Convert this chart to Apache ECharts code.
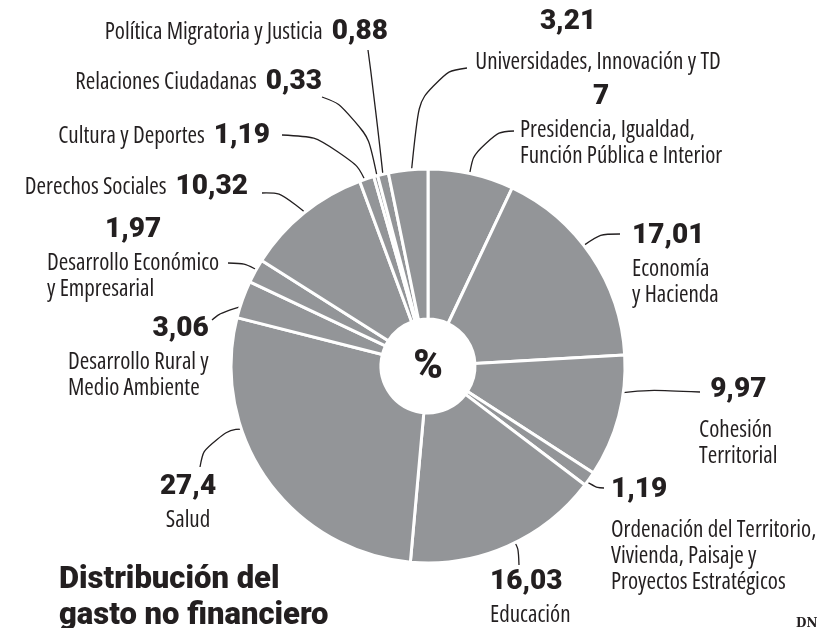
<!DOCTYPE html>
<html>
<head>
<meta charset="utf-8">
<script src="https://cdn.jsdelivr.net/npm/echarts@6/dist/echarts.min.js"></script>
<style>
  html, body { margin: 0; padding: 0; background: #fff; }
  #chart { width: 834px; height: 628px; }
</style>
</head>
<body>
<div id="chart"></div>
<script>
// categories, clockwise from 12 o'clock (line breaks as in the print)
const categories = [
  'Presidencia, Igualdad,\nFunción Pública e Interior',
  'Economía\ny Hacienda',
  'Cohesión\nTerritorial',
  'Ordenación del Territorio,\nVivienda, Paisaje y\nProyectos Estratégicos',
  'Educación',
  'Salud',
  'Desarrollo Rural y\nMedio Ambiente',
  'Desarrollo Económico\ny Empresarial',
  'Derechos Sociales',
  'Cultura y Deportes',
  'Relaciones Ciudadanas',
  'Política Migratoria y Justicia',
  'Universidades, Innovación y TD'
];
const values = [7, 17.01, 9.97, 1.19, 16.03, 27.4, 3.06, 1.97, 10.32, 1.19, 0.33, 0.88, 3.21];
const valueLabels = ['7', '17,01', '9,97', '1,19', '16,03', '27,4', '3,06', '1,97', '10,32', '1,19', '0,33', '0,88', '3,21'];

const TEXT = '#231f20';
const GREY = '#939598';
const NAME_FONT = '"Open Sans", Roboto, sans-serif';
const NUM_FONT = 'Roboto, "Liberation Sans", sans-serif';

const CX = 428, CY = 366, R_IN = 47, R_OUT = 197;

// where each label sits and how its leader line bends
const labelLayouts = [
  { x: 520, y: 77, align: 'left', valAlign: 'center', valPad: 40, anchor: [0.49, 0.93], knee: [476, 133], end: [514, 131] },
  { x: 632, y: 216, align: 'left', valAlign: 'left', anchor: [0.48, 0.83], knee: [576, 234], end: [620, 234] },
  { x: 699, y: 363, align: 'left', valAlign: 'center', tall: true, anchor: [0.38, 0.87], knee: [630, 389], end: [700, 392] },
  { x: 611, y: 463, align: 'left', valAlign: 'left', tall: true, anchor: [0.5, 0.93], knee: [588, 488], end: [604, 488] },
  { x: 490, y: 562, align: 'left', valAlign: 'left', anchor: [0.49, 0.89], knee: [518, 536], end: [519, 565] },
  { x: 188, y: 467, align: 'center', valAlign: 'center', anchor: [0.62, 0.81], knee: [207, 427], end: [200, 467] },
  { x: 68, y: 309, align: 'left', valAlign: 'right', anchor: [0.44, 0.93], knee: [228, 306], end: [212, 320] },
  { x: 47, y: 210, align: 'left', valAlign: 'center', anchor: [0.44, 0.93], knee: [256, 264], end: [228, 263] },
  { x: 248, y: 187, align: 'right', inline: true, anchor: [0.45, 0.86], knee: [305, 192], end: [262, 193] },
  { x: 270, y: 136, align: 'right', inline: true, anchor: [0.4, 0.97], knee: [346, 138], end: [282, 135] },
  { x: 322, y: 82, align: 'right', inline: true, anchor: [0.75, 0.98], knee: [364, 112], end: [322, 97] },
  { x: 388, y: 32, align: 'right', inline: true, anchor: [0.44, 0.98], knee: [376, 110], end: [368, 50] },
  { x: 598, y: -5, align: 'center', valAlign: 'center', valPad: 60, tall: true, anchor: [0.56, 0.97], knee: [421, 74], end: [467, 68] }
];

const total = values.reduce((a, b) => a + b, 0);

// point inside slice i, measured clockwise from the top
function anchorPoint(i) {
  let start = 0;
  for (let j = 0; j < i; j++) start += values[j];
  const [f, rf] = labelLayouts[i].anchor;
  const ang = (start + values[i] * f) / total * Math.PI * 2;
  const r = R_OUT * rf;
  return [CX + r * Math.sin(ang), CY - r * Math.cos(ang)];
}

const pieData = values.map((v, i) => {
  const L = labelLayouts[i];
  const rich = L.inline
    ? {
        n: { align: 'left' },
        v: { align: 'left', padding: [0, 0, 0, 9] }
      }
    : {
        n: { align: L.align === 'center' ? 'center' : 'left' },
        v: {
          align: L.valAlign,
          lineHeight: L.tall ? 54 : 40,
          padding: L.valPad ? [0, L.valPad, 0, 0] : 0
        }
      };
  return { name: categories[i], value: v, label: { rich } };
});

const chart = echarts.init(document.getElementById('chart'));

chart.setOption({
  animation: false,
  title: {
    text: 'Distribución del\ngasto no financiero',
    left: 59,
    top: 562,
    padding: 0,
    textStyle: {
      fontFamily: NUM_FONT,
      fontWeight: 900,
      fontSize: 31,
      lineHeight: 36,
      color: TEXT
    }
  },
  graphic: [
    {
      type: 'text',
      x: CX,
      y: CY + 2,
      style: {
        text: '%',
        fontFamily: NUM_FONT,
        fontWeight: 900,
        fontSize: 40,
        fill: TEXT,
        align: 'center',
        verticalAlign: 'middle'
      }
    },
    {
      type: 'text',
      x: 796,
      y: 618,
      style: {
        text: 'DN',
        fontFamily: '"DejaVu Serif", serif',
        fontWeight: 'bold',
        fontSize: 12,
        fill: TEXT
      }
    }
  ],
  series: [{
    type: 'pie',
    center: [CX, CY],
    radius: [R_IN, R_OUT],
    startAngle: 90,
    clockwise: true,
    avoidLabelOverlap: false,
    emphasis: { disabled: true },
    itemStyle: {
      color: GREY,
      borderColor: '#fff',
      borderWidth: 3
    },
    label: {
      show: true,
      position: 'outside',
      formatter: (p) => {
        const L = labelLayouts[p.dataIndex];
        const val = valueLabels[p.dataIndex];
        return L.inline
          ? '{n|' + p.name + '}{v|' + val + '}'
          : '{v|' + val + '}\n{n|' + p.name + '}';
      },
      rich: {
        // 'condensed' ends up as font-stretch in the canvas font string
        n: { fontFamily: NAME_FONT, fontStyle: 'condensed', fontSize: 23, lineHeight: 26, color: TEXT },
        v: { fontFamily: NUM_FONT, fontWeight: 900, fontSize: 28, lineHeight: 40, color: TEXT }
      }
    },
    labelLine: {
      show: true,
      smooth: 0.6,
      lineStyle: { color: TEXT, width: 1.3 }
    },
    labelLayout: (params) => {
      const L = labelLayouts[params.dataIndex];
      return {
        x: L.x,
        y: L.y,
        align: L.align,
        verticalAlign: L.inline ? 'middle' : 'top',
        labelLinePoints: [anchorPoint(params.dataIndex), L.knee, L.end]
      };
    },
    data: pieData
  }]
});
</script>
</body>
</html>
